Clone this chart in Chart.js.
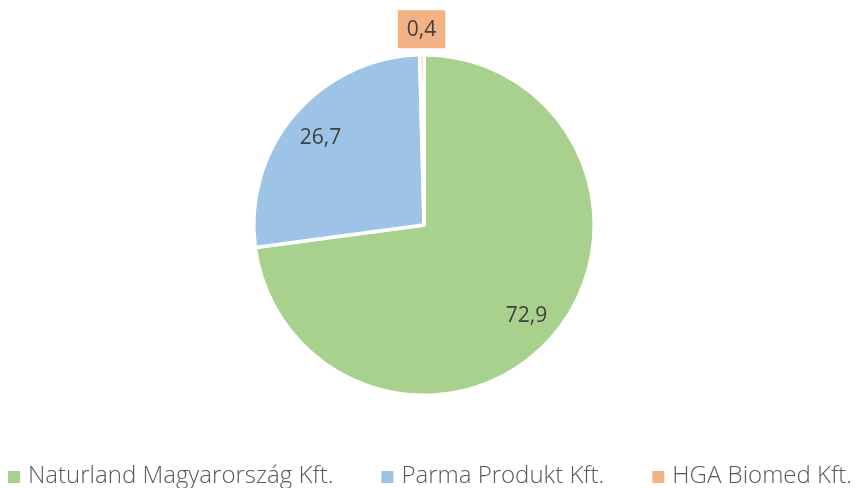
<!DOCTYPE html>
<html>
<head>
<meta charset="utf-8">
<script src="https://cdn.jsdelivr.net/npm/chart.js@4/dist/chart.umd.min.js"></script>
<style>
  html, body { margin: 0; padding: 0; background: #fff; }
  #wrap { width: 856px; height: 488px; }
</style>
</head>
<body>
<div id="wrap"><canvas id="grafikon"></canvas></div>
<script>
const cegek = ["Naturland Magyarország Kft.", "Parma Produkt Kft.", "HGA Biomed Kft."];
const reszesedes = [72.9, 26.7, 0.4];
const szinek = ["#A9D18E", "#9DC3E6", "#F4B183"];

// értékcímkék a szeletekre (a kicsi kívülre, színes dobozban)
const ertekCimkek = {
  id: "ertekCimkek",
  afterDatasetsDraw(chart) {
    const ctx = chart.ctx;
    const meta = chart.getDatasetMeta(0);
    ctx.save();
    ctx.font = "21px 'Open Sans'";
    ctx.textAlign = "center";
    ctx.textBaseline = "middle";
    meta.data.forEach((arc, i) => {
      const p = arc.getProps(["x", "y", "startAngle", "endAngle", "outerRadius"], true);
      const kozep = (p.startAngle + p.endAngle) / 2;
      const szoveg = reszesedes[i].toFixed(1).replace(".", ",");
      const kint = reszesedes[i] < 5;
      const r = p.outerRadius * (kint ? 1.15 : 0.8);
      const x = p.x + Math.cos(kozep) * r;
      const y = p.y + Math.sin(kozep) * r;
      if (kint) {
        const w = ctx.measureText(szoveg).width + 18;
        ctx.fillStyle = szinek[i];
        ctx.fillRect(x - w / 2, y - 19, w, 38);
      }
      ctx.fillStyle = "#404040";
      ctx.fillText(szoveg, x, y + 1);
    });
    ctx.restore();
  }
};

// jelmagyarázat egy sorban, alul
const jelmagyarazat = {
  id: "jelmagyarazat",
  afterDraw(chart) {
    const ctx = chart.ctx;
    ctx.save();
    ctx.font = "300 24px 'Open Sans'";
    ctx.textBaseline = "alphabetic";
    const doboz = 12, res = 8, kozt = 48;
    const szel = cegek.map(c => doboz + res + ctx.measureText(c).width);
    const ossz = szel.reduce((a, b) => a + b, 0) + kozt * (cegek.length - 1);
    let x = (chart.width - ossz) / 2 + 2;
    cegek.forEach((c, i) => {
      ctx.fillStyle = szinek[i];
      ctx.fillRect(x, 471, doboz, doboz);
      ctx.fillStyle = "#595959";
      ctx.fillText(c, x + doboz + res, 483);
      x += szel[i] + kozt;
    });
    ctx.restore();
  }
};

new Chart(document.getElementById("grafikon").getContext("2d"), {
  type: "pie",
  data: {
    labels: cegek,
    datasets: [{
      data: reszesedes,
      backgroundColor: szinek,
      borderColor: "#ffffff",
      borderWidth: 3.5
    }]
  },
  options: {
    responsive: true,
    maintainAspectRatio: false,
    animation: false,
    layout: { padding: { top: 53, bottom: 91, left: 0, right: 8 } },
    plugins: {
      tooltip: { enabled: false },
      legend: { display: false }
    }
  },
  plugins: [ertekCimkek, jelmagyarazat]
});
</script>
</body>
</html>
